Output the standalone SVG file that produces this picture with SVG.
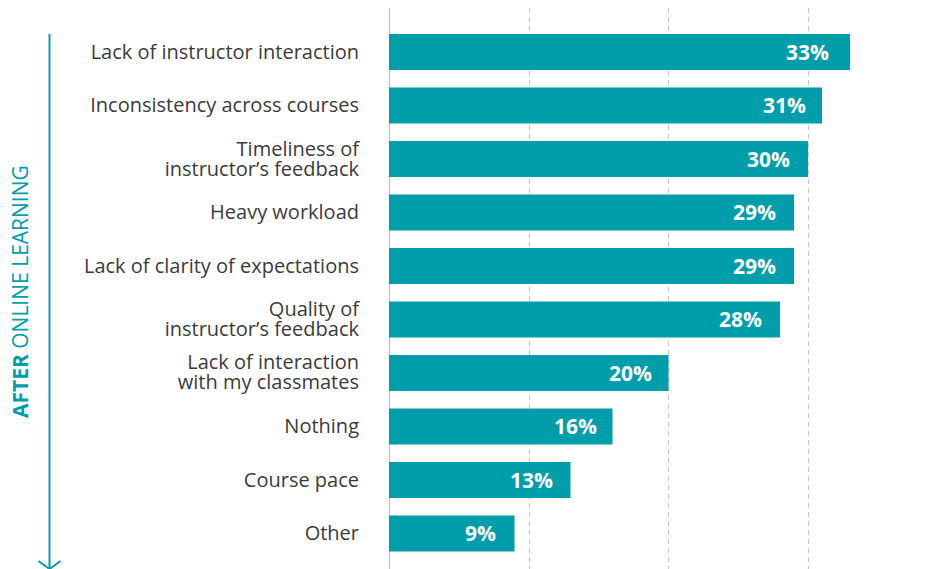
<svg xmlns="http://www.w3.org/2000/svg" width="938" height="569" viewBox="0 0 938 569">
<style>
.bar{fill:#009EAA}
.lbl{font-family:"Open Sans","Noto Sans",sans-serif;font-size:20px;fill:#3b3b3b;text-anchor:end}
.val{font-family:"Open Sans","Noto Sans",sans-serif;font-size:21px;font-weight:bold;fill:#ffffff;text-anchor:end}
.grid{stroke:#c8c8c8;stroke-width:1.2;stroke-dasharray:5,4;fill:none}
.axis{stroke:#bdbdbd;stroke-width:1.2;fill:none}
</style>
<rect width="938" height="569" fill="#ffffff"/>
<g id="gridlines">
<line class="grid" x1="529.5" y1="8" x2="529.5" y2="569"/>
<line class="grid" x1="668.5" y1="8" x2="668.5" y2="569"/>
<line class="grid" x1="808.5" y1="8" x2="808.5" y2="569"/>
<line class="axis" x1="389.5" y1="8" x2="389.5" y2="569"/>
</g>
<g id="side-axis">
<line x1="49.5" y1="34" x2="49.5" y2="568" stroke="#009EAA" stroke-width="2"/>
<polyline points="38.5,561 49.5,569 60.5,561" fill="none" stroke="#009EAA" stroke-width="2"/>
<text transform="translate(28,418) rotate(-90)" font-family="'Open Sans','Noto Sans',sans-serif" font-size="21" fill="#009EAA"><tspan font-weight="bold">AFTER</tspan> ONLINE LEARNING</text>
</g>
<g id="bar1"><rect class="bar" x="389" y="34" width="461" height="36"/><text class="val" x="829" y="59.5">33%</text><text class="lbl" x="359" y="58.5">Lack of instructor interaction</text></g>
<g id="bar2"><rect class="bar" x="389" y="87.5" width="433" height="36"/><text class="val" x="806" y="113">31%</text><text class="lbl" x="359" y="112">Inconsistency across courses</text></g>
<g id="bar3"><rect class="bar" x="389" y="141" width="419" height="36"/><text class="val" x="790" y="166.5">30%</text><text class="lbl" x="359" y="156">Timeliness of<tspan x="359" dy="20">instructor’s feedback</tspan></text></g>
<g id="bar4"><rect class="bar" x="389" y="194.5" width="405" height="36"/><text class="val" x="776" y="220">29%</text><text class="lbl" x="359" y="219">Heavy workload</text></g>
<g id="bar5"><rect class="bar" x="389" y="248" width="405" height="36"/><text class="val" x="776" y="273.5">29%</text><text class="lbl" x="359" y="272.5">Lack of clarity of expectations</text></g>
<g id="bar6"><rect class="bar" x="389" y="301.5" width="391" height="36"/><text class="val" x="762" y="327">28%</text><text class="lbl" x="359" y="315.7">Quality of<tspan x="359" dy="20">instructor’s feedback</tspan></text></g>
<g id="bar7"><rect class="bar" x="389" y="355" width="279.5" height="36"/><text class="val" x="652" y="380.5">20%</text><text class="lbl" x="359" y="369">Lack of interaction<tspan x="359" dy="20">with my classmates</tspan></text></g>
<g id="bar8"><rect class="bar" x="389" y="408.5" width="223.5" height="36"/><text class="val" x="597" y="434">16%</text><text class="lbl" x="359" y="433">Nothing</text></g>
<g id="bar9"><rect class="bar" x="389" y="462" width="181.5" height="36"/><text class="val" x="553" y="487.5">13%</text><text class="lbl" x="359" y="486.5">Course pace</text></g>
<g id="bar10"><rect class="bar" x="389" y="515.5" width="125.5" height="36"/><text class="val" x="496" y="541">9%</text><text class="lbl" x="359" y="540">Other</text></g>
</svg>
